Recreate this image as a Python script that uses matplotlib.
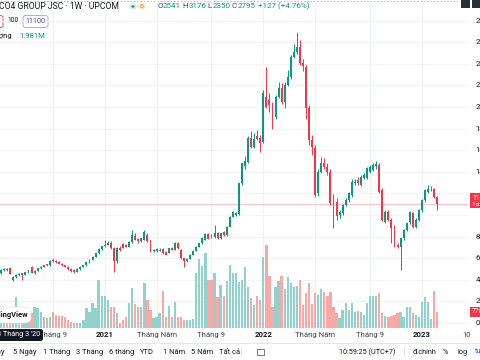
import numpy as np
import matplotlib
matplotlib.use("Agg")
import matplotlib.pyplot as plt
import matplotlib.transforms as mtransforms
from matplotlib.lines import Line2D
from matplotlib.patches import Rectangle, FancyBboxPatch, Circle

plt.rcParams["font.family"] = ["Roboto", "DejaVu Sans"]

# weekly candles, May 2020 -> Feb 2023 (VND)
opens = [4600, 4900, 5000, 5100, 4000, 4300, 4450, 4600, 4450, 4700,
         5150, 4600, 4850, 5050, 5200, 5450, 5350, 5800, 5750, 5650,
         5500, 5350, 5200, 5000, 4950, 4750, 5000, 5200, 5350, 5650,
         5850, 6150, 6450, 6850, 7100, 7250, 7450, 6900,
         5700, 6950, 7300, 7200, 7050, 7500, 8100, 7750, 7550, 7700,
         8150, 7650, 6650, 6650, 6700, 6850, 6600, 6500, 6950, 6800,
         7450, 6800, 6000, 5700, 5950, 6300, 6700, 7050, 7400, 7700,
         8250, 8100, 7950, 8300, 7850, 8450, 8150, 8920, 9850, 10000,
         10100, 12935, 14500, 14900, 17100, 16300, 17300, 17100,
         16790, 20960, 20650, 20190, 19100, 20960, 21730, 20500, 22040, 22810,
         24660, 25130, 25590, 24100, 23740, 19880, 16950, 16180, 12010, 14015,
         14786, 14480, 14015, 11700, 11240,
         10000, 10160, 10930, 11390, 11850, 12930, 13240, 12780, 13400, 13400,
         14010, 14170, 14500, 14630, 12320, 9380, 10310, 9540, 8980, 7230,
         7070, 7840, 8610, 9380, 10150, 8920, 9540, 10460, 11390, 12160,
         12380, 12420, 11700]
highs = [5000, 5050, 5100, 5150, 4350, 4500, 4600, 4650, 4750, 4950,
         5250, 4900, 5100, 5250, 5400, 5500, 5800, 5980, 5850, 5700,
         5600, 5400, 5250, 5100, 5000, 5050, 5250, 5400, 5700, 5900,
         6200, 6500, 6900, 7150, 7700, 7600, 7550, 7000,
         7000, 7100, 7400, 7350, 7550, 8600, 8300, 7850, 7900, 8600,
         8300, 7700, 6850, 6900, 6900, 6950, 6650, 6950, 7000, 7500,
         7500, 6850, 6050, 6000, 6350, 6750, 7100, 7450, 7950, 8300,
         8350, 8200, 9076, 8400, 8350, 8500, 9000, 9900, 10350, 10300,
         13000, 14850, 15500, 17300, 17800, 17600, 17900, 17400,
         21600, 23740, 21300, 20500, 21100, 22300, 22200, 22300, 23400, 24800,
         25800, 26980, 26200, 24400, 23900, 20200, 17400, 16500, 14300, 15400,
         15300, 14800, 14300, 11900, 11540,
         10500, 11000, 11600, 12100, 13300, 13300, 13500, 13700, 13900, 14400,
         14600, 14800, 15000, 14800, 12500, 10500, 10500, 9700, 9100, 7400,
         7900, 8700, 9300, 10400, 10300, 9700, 10600, 11500, 12400, 12780,
         12700, 12500, 11800]
lows = [4500, 4800, 4850, 4500, 3900, 4200, 4350, 4000, 4400, 4650,
        4600, 4550, 4800, 5000, 5150, 5300, 5300, 5650, 5600, 5450,
        5300, 5150, 4950, 4750, 4600, 4700, 4950, 5150, 5300, 5600,
        5800, 6100, 6400, 6800, 7050, 7200, 6850, 4750,
        5600, 6700, 6900, 7000, 7000, 7450, 7650, 7450, 7500, 7650,
        7500, 6600, 6550, 6600, 6650, 6400, 6250, 6450, 6750, 6750,
        6850, 5950, 5220, 5650, 5900, 6250, 6650, 7000, 7350, 7650,
        7750, 7900, 7900, 7800, 7800, 8100, 8100, 8850, 9800, 9900,
        10000, 12800, 14300, 14800, 16200, 16200, 16900, 15860,
        16700, 19900, 19500, 18000, 18900, 20800, 20300, 19880, 21900, 22600,
        24500, 24900, 23900, 23300, 18900, 16500, 15600, 11700, 11800, 13900,
        14300, 13700, 10900, 8770, 9500,
        9700, 10000, 10800, 11200, 11700, 12800, 12800, 12700, 13300, 13300,
        13900, 14100, 14300, 12000, 9400, 9300, 9450, 7380, 7000, 6900,
        4910, 7700, 8500, 9200, 8800, 8800, 9400, 10300, 11200, 12000,
        12200, 11600, 10460]
closes = [4900, 5000, 4900, 4550, 4300, 4450, 4550, 4400, 4700, 4900,
          4650, 4850, 5050, 5200, 5350, 5350, 5750, 5700, 5650, 5500,
          5350, 5200, 5000, 4850, 4750, 5000, 5200, 5350, 5650, 5850,
          6150, 6450, 6850, 7100, 7250, 7450, 6900, 5700,
          6900, 6800, 6950, 7050, 7500, 8150, 7700, 7550, 7850, 8450,
          7550, 6650, 6780, 6850, 6800, 6450, 6300, 6900, 6800, 7450,
          6900, 6000, 5700, 5950, 6300, 6700, 7050, 7400, 7900, 8250,
          7800, 7950, 8300, 7850, 8300, 8150, 8920, 9850, 10300, 10200,
          12935, 14786, 15000, 17100, 16330, 17070, 17000, 16640,
          21270, 19970, 20190, 18800, 20960, 21730, 20500, 22040, 22810, 24660,
          25130, 25590, 24050, 23800, 19880, 16950, 16330, 11850, 14015, 14786,
          14480, 14015, 11080, 9850, 9900,
          10310, 10930, 11390, 12010, 13090, 13090, 12930, 13550, 13700, 14320,
          14480, 14630, 14700, 12160, 9540, 10310, 9540, 8770, 7070, 7070,
          7840, 8610, 9230, 10310, 8920, 9540, 10460, 11390, 12310, 12380,
          12420, 11700, 11000]
# volume, thousand shares
volumes = [580, 480, 580, 770, 670, 1490, 670, 580, 770, 580,
           720, 1010, 960, 770, 530, 480, 530, 770, 620, 580,
           580, 530, 380, 290, 240, 240, 240, 380, 960, 770,
           1200, 960, 2300, 1540, 1540, 1340, 1010, 1010,
           720, 240, 380, 530, 1200, 1920, 1150, 1010, 1010, 2160,
           1340, 860, 480, 530, 720, 1780, 530, 1060, 530, 1250,
           530, 530, 380, 380, 380, 430, 2640, 3310, 2980, 3600,
           2300, 2300, 2640, 1490, 2060, 1540, 2260, 3020, 2640, 2640,
           2210, 2300, 2930, 1970, 1440, 1100, 1540, 1340,
           3410, 3980, 2500, 1010, 1970, 2260, 2500, 1870, 2450, 2160,
           1970, 2020, 2300, 1100, 1680, 2160, 1150, 1680, 1580, 1870,
           1730, 1540, 1730, 1010, 720,
           480, 860, 1200, 860, 1200, 770, 820, 770, 620, 1200,
           1540, 1540, 1540, 1680, 720, 580, 530, 580, 620, 720,
           770, 530, 1010, 1010, 720, 620, 530, 1250, 1490, 1250,
           430, 1780, 770]

tick_pos = [17, 34, 51, 69, 86, 103, 121, 138]
tick_labels = ["Tháng 9", "2021", "Tháng Năm", "Tháng 9", "2022",
               "Tháng Năm", "Tháng 9", "2023"]
price_ticks = list(range(0, 28001, 2000))

UP, DOWN = "#089981", "#f23645"
UP_V, DOWN_V = "#92d2cc", "#f7a9a7"
TXT = "#131722"
GRID = "#f0f3fa"

W, H = 480, 360
fig = plt.figure(figsize=(4.8, 3.6), dpi=100)
fig.patch.set_facecolor("white")


def fx(px):
    return px / W


def fy(py):
    return 1 - py / H


ax = fig.add_axes([0, fy(328), fx(468), 328 / H])
ax2 = ax.twinx()
ax.set_zorder(3)
ax2.set_zorder(2)
ax.patch.set_visible(False)

x = np.arange(len(closes))
o = np.array(opens)
c = np.array(closes)
up = c >= o
col = np.where(up, UP, DOWN)

# grid (behind volume)
for p in price_ticks:
    ax2.add_line(Line2D([-5, 200], [p, p], transform=ax.transData,
                        color=GRID, lw=0.8, zorder=0))
for t in tick_pos:
    ax2.axvline(t, color=GRID, lw=0.8, zorder=0)

ax2.bar(x, volumes, width=0.75, color=np.where(up, UP_V, DOWN_V),
        linewidth=0, zorder=1)

ax.axhline(closes[-1], color=DOWN, alpha=0.3, lw=0.8, zorder=1)
ax.vlines(x, lows, highs, colors=col, lw=0.7, zorder=2)
ax.bar(x, np.maximum(np.abs(c - o), 60), bottom=np.minimum(o, c),
       width=0.62, color=col, linewidth=0, zorder=3)

ax.set_xlim(-0.33, 153.1)
ax.set_ylim(-463, 29907)
ax2.set_ylim(0, 15744)
ax.axis("off")
ax2.axis("off")

# x labels
trans = mtransforms.blended_transform_factory(ax.transData, ax.transAxes)
for t, lab in zip(tick_pos, tick_labels):
    bold = lab.isdigit()
    ax.text(t, -0.021, lab, transform=trans, ha="center", va="center",
            fontsize=5.6, color=TXT if bold else "#434651",
            fontweight="bold" if bold else "normal", clip_on=False)
fig.text(fx(467), fy(335), "10", ha="center", va="center", fontsize=5.6,
         color="#434651")

# price scale labels (cut by the edge)
ytrans = mtransforms.blended_transform_factory(ax.transAxes, ax.transData)
for p in price_ticks:
    if abs(p - closes[-1]) < 1400:
        continue
    ax.text(475.5 / 468, p, str(p), transform=ytrans, ha="left", va="center",
            fontsize=5.6, color=TXT, clip_on=False)

# last price / last volume boxes
yline = 323 - closes[-1] * 0.0108
fig.patches.append(Rectangle((fx(470), fy(yline + 4)), fx(12), 15 / H,
                             transform=fig.transFigure, color=DOWN, lw=0))
fig.text(fx(472), fy(yline - 6), str(closes[-1]), fontsize=4.8, color="white",
         ha="left", va="center")
fig.text(fx(472), fy(yline + 0.5), "1d 13h", fontsize=4.5, color="white",
         ha="left", va="center")
yv = 328 - volumes[-1] / 48
fig.patches.append(Rectangle((fx(470), fy(yv + 5)), fx(12), 10 / H,
                             transform=fig.transFigure, color=DOWN, lw=0))
fig.text(fx(472), fy(yv), f"{volumes[-1]}K", fontsize=4.8, color="white",
         ha="left", va="center")

# top border and icons
fig.add_artist(Line2D([0, fx(458)], [fy(1), fy(1)], color="#b2b5be", lw=0.6,
                      linestyle=(0, (2, 2))))
fig.patches.append(Rectangle((fx(461), fy(8)), fx(9), 8 / H,
                             transform=fig.transFigure, color="#2a2e39", lw=0))
fig.patches.append(Rectangle((fx(472), fy(8)), fx(8), 8 / H,
                             transform=fig.transFigure, color="#2a2e39", lw=0))
fig.add_artist(Circle((fx(465.5), fy(4)), 0.006, transform=fig.transFigure,
                      fill=False, ec="#d1d4dc", lw=0.5))

# legend header
fig.text(fx(119), fy(6.5), "CIENCO4 GROUP JSC · 1W · UPCOM", ha="right",
         va="center", fontsize=6.2, color=TXT)
fig.add_artist(Circle((fx(133), fy(6.5)), 4.2 / W, transform=fig.transFigure,
                      color="#d5f2ea", lw=0))
fig.add_artist(Circle((fx(133), fy(6.5)), 1.6 / W, transform=fig.transFigure,
                      color=UP, lw=0))
fig.add_artist(Circle((fx(142), fy(6.5)), 4.2 / W, transform=fig.transFigure,
                      color="#fde9cf", lw=0))
fig.text(fx(142), fy(6.7), "D", ha="center", va="center", fontsize=4.4,
         color="#f59d0e", fontweight="bold")
ohlc = [("O", "#434651"), ("2541", UP), (" H", "#434651"), ("3176", UP),
        (" L", "#434651"), ("2350", UP), (" C", "#434651"), ("2795", UP),
        (" +127 (+4.76%)", UP)]
xpos = 157
renderer = fig.canvas.get_renderer()
for s, cc in ohlc:
    tt = fig.text(fx(xpos), fy(6.5), s, ha="left", va="center", fontsize=5.8,
                  color=cc)
    xpos += tt.get_window_extent(renderer).width

fig.patches.append(FancyBboxPatch((fx(-20), fy(27.5)), fx(23), 12 / H,
                                  boxstyle="round,pad=0,rounding_size=0.006",
                                  transform=fig.transFigure, fill=False,
                                  ec=DOWN, lw=0.6))
fig.text(fx(13), fy(21), "100", ha="center", va="center", fontsize=4.8,
         color=TXT)
fig.patches.append(FancyBboxPatch((fx(23), fy(27.5)), fx(25), 12 / H,
                                  boxstyle="round,pad=0,rounding_size=0.006",
                                  transform=fig.transFigure, fill=False,
                                  ec="#9c9ff0", lw=0.6))
fig.text(fx(35.5), fy(21.3), "11100", ha="center", va="center", fontsize=5.2,
         color="#4e4ed8")
fig.text(fx(12), fy(35.5), "Khối lượng", ha="right", va="center",
         fontsize=5.5, color=TXT)
fig.text(fx(19), fy(35.5), "1.981M", ha="left", va="center", fontsize=5.6,
         color=UP)

# TradingView logo and crosshair date
fig.patches.append(FancyBboxPatch((fx(-12), fy(323)), fx(43), 16 / H,
                                  boxstyle="round,pad=0,rounding_size=0.015",
                                  transform=fig.transFigure, fc="white",
                                  ec="#e0e3eb", lw=0.5, zorder=5))
fig.text(fx(28), fy(315), "TradingView", ha="right", va="center",
         fontsize=5.4, color=TXT, fontweight="bold", zorder=6)
fig.patches.append(FancyBboxPatch((fx(-5), fy(341)), fx(48), 12 / H,
                                  boxstyle="round,pad=0,rounding_size=0.006",
                                  transform=fig.transFigure, fc=TXT, lw=0,
                                  zorder=5))
fig.text(fx(40), fy(335), "23 Tháng 3 '20", ha="right", va="center",
         fontsize=5.2, color="white", zorder=6)

# bottom toolbar
fig.add_artist(Line2D([0, 1], [fy(343), fy(343)], color="#e0e3eb", lw=0.6))
fig.text(fx(4.5), fy(352), "1 Ngày", ha="right", va="center", fontsize=5.4,
         color=TXT)
buttons = [("5 Ngày", 13), ("1 Tháng", 43), ("3 Tháng", 76), ("6 tháng", 109),
           ("YTD", 140), ("1 Năm", 163), ("5 Năm", 191), ("Tất cả", 219)]
for s, px in buttons:
    fig.text(fx(px), fy(352), s, ha="left", va="center", fontsize=5.4,
             color=TXT)
for px in [241, 404]:
    fig.add_artist(Line2D([fx(px), fx(px)], [fy(347), fy(357)],
                          color="#e0e3eb", lw=0.6))
fig.patches.append(Rectangle((fx(257), fy(355)), fx(7), 6 / H,
                             transform=fig.transFigure, fill=False,
                             ec="#434651", lw=0.5))
right_items = [("10:59:25 (UTC+7)", 339, TXT), ("đ.chính", 413, TXT),
               ("%", 443, TXT), ("log", 457, TXT), ("tự", 475, "#2962ff")]
for s, px, cc in right_items:
    fig.text(fx(px), fy(352), s, ha="left", va="center", fontsize=5.2,
             color=cc)

fig.savefig("out.png", dpi=100, facecolor="white")
